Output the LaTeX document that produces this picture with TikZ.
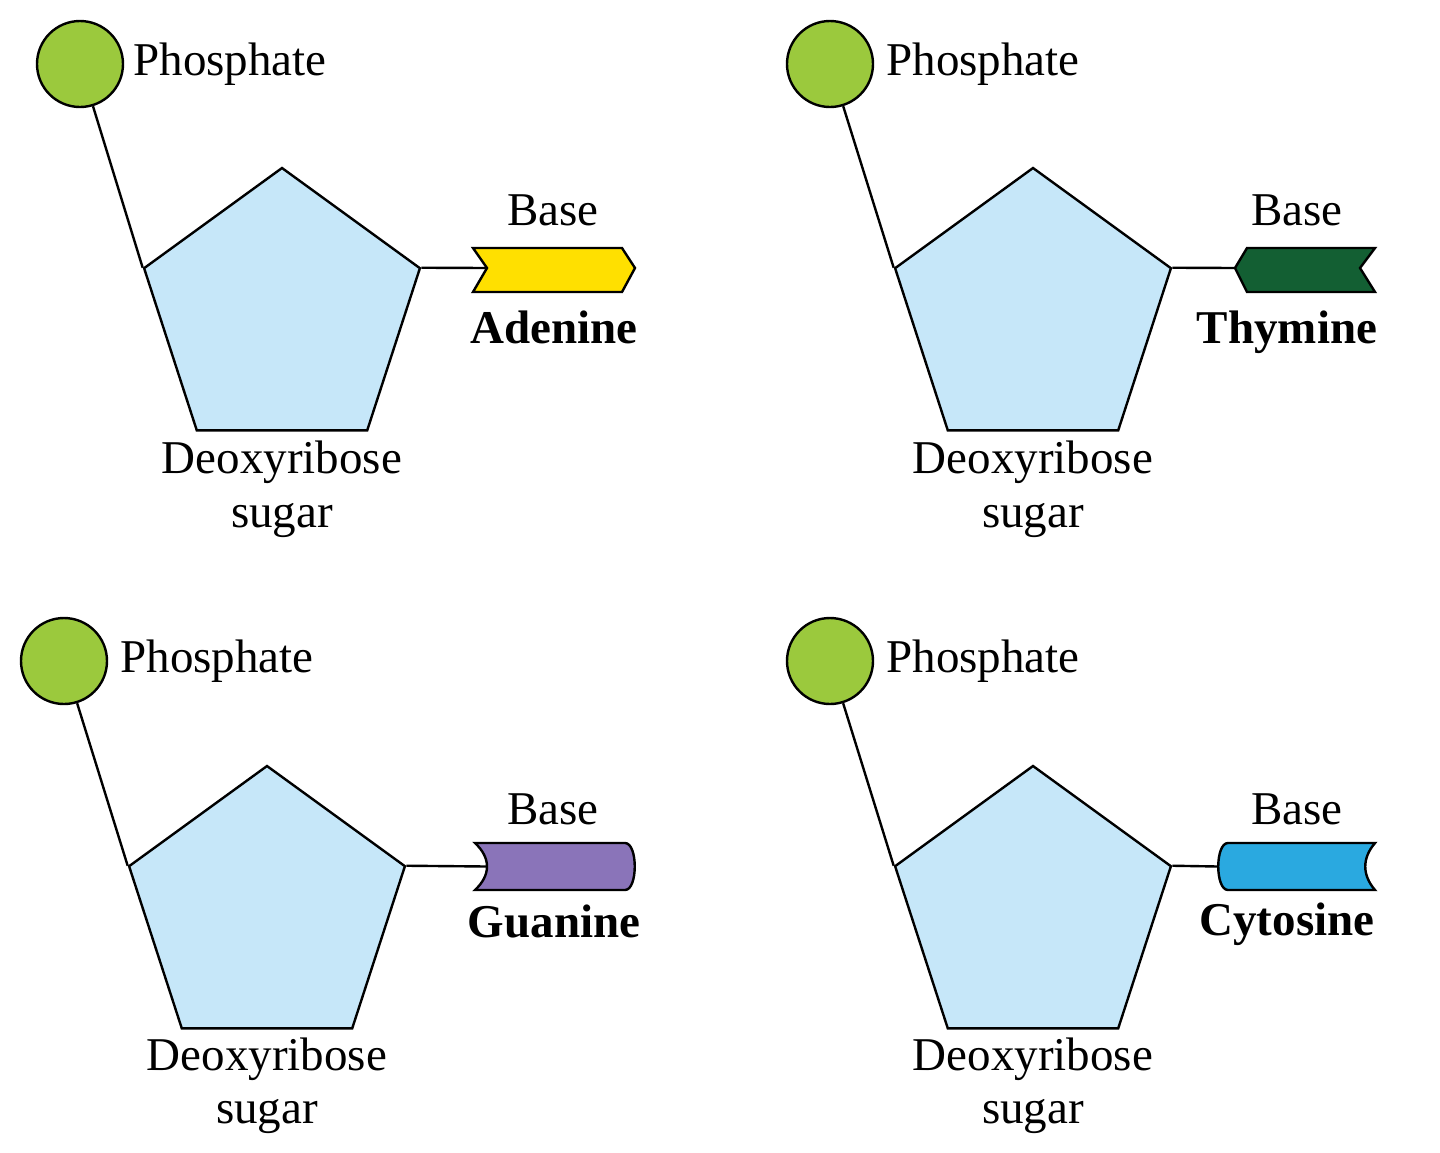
\documentclass[tikz,border=0pt]{standalone}
\usepackage{fontspec}
\setmainfont{Liberation Serif}
\usetikzlibrary{shapes.geometric}
\definecolor{phos}{HTML}{9BC93D}
\definecolor{sugarc}{HTML}{C6E7F9}
\definecolor{adec}{HTML}{FFE000}
\definecolor{thyc}{HTML}{135F33}
\definecolor{guac}{HTML}{8A74B9}
\definecolor{cytc}{HTML}{2AA9E0}
\tikzset{
  phosph/.style={circle,draw=black,fill=phos,line width=1.2pt,minimum size=43pt,inner sep=0pt},
  sugarbox/.style={regular polygon,regular polygon sides=5,draw=black,fill=sugarc,line width=1.2pt,minimum size=145pt,inner sep=0pt},
  lbl/.style={font=\fontsize{23.5}{28}\selectfont,inner sep=0pt,anchor=base},
  blbl/.style={lbl,font=\fontsize{23.5}{28}\selectfont\bfseries},
  bond/.style={draw=black,line width=1.2pt},
  baseshape/.style={draw=black,line width=1.2pt,line join=miter},
}
\begin{document}
\begin{tikzpicture}[x=0.5pt,y=-0.5pt]
\useasboundingbox (0,0) rectangle (1440,1152);
% ---------- Panel 1: Adenine ----------
\node[phosph] (p1) at (80,64) {};
\node[lbl,anchor=base west] (pt1) at (133,75) {Phosphate};
\node[sugarbox] (s1) at (282,313) {};
\draw[bond] (p1) -- (s1.corner 2);
\draw[baseshape,fill=adec] (473,248) -- (622,248) -- (635,268) -- (622,292) -- (473,292) -- (487,268) -- cycle;
\coordinate (b1) at (487,268);
\draw[bond] (s1.corner 5) -- (b1);
\node[lbl] (bl1) at (553,225) {Base};
\node[blbl] (n1) at (554,343) {Adenine};
\node[lbl] (d1) at (282,473) {Deoxyribose};
\node[lbl] (g1) at (282,527) {sugar};
% ---------- Panel 2: Thymine ----------
\node[phosph] (p2) at (830,64) {};
\node[lbl,anchor=base west] (pt2) at (886,75) {Phosphate};
\node[sugarbox] (s2) at (1033,313) {};
\draw[bond] (p2) -- (s2.corner 2);
\draw[baseshape,fill=thyc] (1247,248) -- (1375,248) -- (1360,268) -- (1375,292) -- (1247,292) -- (1235,268) -- cycle;
\coordinate (b2) at (1235,268);
\draw[bond] (s2.corner 5) -- (b2);
\node[lbl] (bl2) at (1297,225) {Base};
\node[blbl] (n2) at (1287,343) {Thymine};
\node[lbl] (d2) at (1033,473) {Deoxyribose};
\node[lbl] (g2) at (1033,527) {sugar};
% ---------- Panel 3: Guanine ----------
\node[phosph] (p3) at (64,661) {};
\node[lbl,anchor=base west] (pt3) at (120,672) {Phosphate};
\node[sugarbox] (s3) at (267,911) {};
\draw[bond] (p3) -- (s3.corner 2);
\draw[baseshape,fill=guac] (475,843) -- (625,843) .. controls (638,843) and (638,890) .. (625,890) -- (475,890) .. controls (491,875) and (491,858) .. (475,843) -- cycle;
\coordinate (b3) at (487,866.5);
\draw[bond] (s3.corner 5) -- (b3);
\node[lbl] (bl3) at (553,824) {Base};
\node[blbl] (n3) at (554,937) {Guanine};
\node[lbl] (d3) at (267,1070) {Deoxyribose};
\node[lbl] (g3) at (267,1123) {sugar};
% ---------- Panel 4: Cytosine ----------
\node[phosph] (p4) at (830,661) {};
\node[lbl,anchor=base west] (pt4) at (886,672) {Phosphate};
\node[sugarbox] (s4) at (1033,911) {};
\draw[bond] (p4) -- (s4.corner 2);
\draw[baseshape,fill=cytc] (1228,843) -- (1375,843) .. controls (1362,858) and (1362,875) .. (1375,890) -- (1228,890) .. controls (1215,890) and (1215,843) .. (1228,843) -- cycle;
\coordinate (b4) at (1218,866.5);
\draw[bond] (s4.corner 5) -- (b4);
\node[lbl] (bl4) at (1297,824) {Base};
\node[blbl] (n4) at (1287,935) {Cytosine};
\node[lbl] (d4) at (1033,1070) {Deoxyribose};
\node[lbl] (g4) at (1033,1123) {sugar};
\end{tikzpicture}
\end{document}
